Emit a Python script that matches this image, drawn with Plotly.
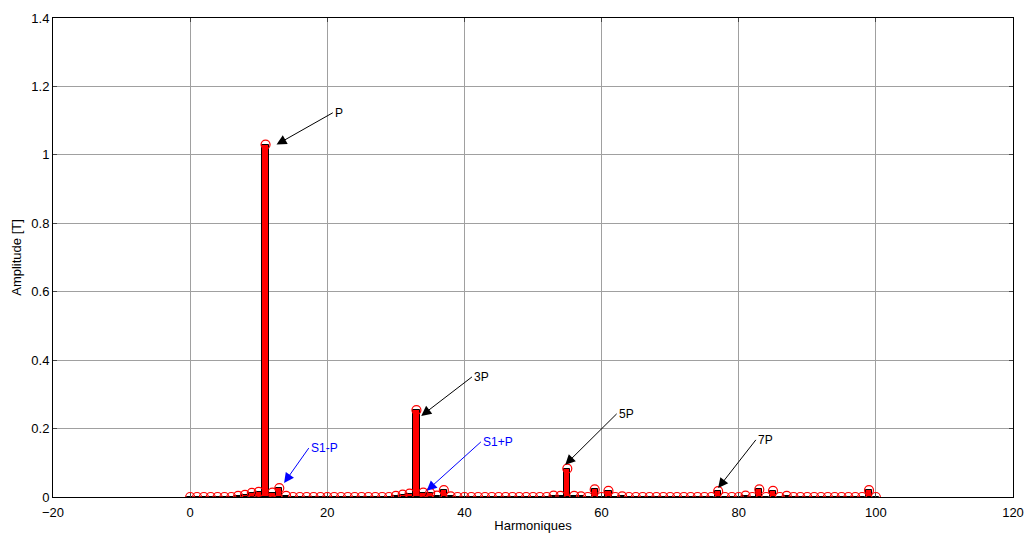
import plotly.graph_objects as go

# Harmonic rank and flux density amplitude spectrum
harmonics = list(range(0, 101))
amplitude = [
    0, 0, 0, 0, 0, 0, 0, 0.003, 0.006, 0.012,          # 0-9
    0.015, 1.03, 0.013, 0.026, 0.003, 0, 0, 0, 0, 0,     # 10-19
    0, 0, 0, 0, 0, 0, 0, 0, 0, 0,                        # 20-29
    0.003, 0.007, 0.01, 0.254, 0.013, 0.012, 0.004, 0.02, 0.002, 0,  # 30-39
    0, 0, 0, 0, 0, 0, 0, 0, 0, 0,                        # 40-49
    0, 0, 0, 0.004, 0.003, 0.083, 0.003, 0.002, 0, 0.022,  # 50-59
    0, 0.018, 0, 0.002, 0, 0, 0, 0, 0, 0,                # 60-69
    0, 0, 0, 0, 0, 0, 0, 0.017, 0, 0,                    # 70-79
    0, 0.004, 0, 0.022, 0, 0.018, 0, 0.003, 0, 0,        # 80-89
    0, 0, 0, 0, 0, 0, 0, 0, 0, 0.02,                     # 90-99
    0,                                                   # 100
]

x_ticks = [-20, 0, 20, 40, 60, 80, 100, 120]
y_ticks = [0, 0.2, 0.4, 0.6, 0.8, 1.0, 1.2, 1.4]
y_tick_text = ["0", "0.2", "0.4", "0.6", "0.8", "1", "1.2", "1.4"]

# Arrow labels: (text, head_x, head_y, tail_x, tail_y, colour)
labels = [
    ("P", 12.6, 1.03, 20.8, 1.123, "black"),
    ("3P", 33.7, 0.237, 41.1, 0.351, "black"),
    ("5P", 54.7, 0.094, 62.2, 0.243, "black"),
    ("7P", 77.0, 0.026, 82.5, 0.167, "black"),
    ("S1-P", 13.7, 0.041, 17.3, 0.143, "blue"),
    ("S1+P", 34.5, 0.018, 42.4, 0.161, "blue"),
]

fig = go.Figure()

fig.add_trace(go.Bar(
    x=harmonics, y=amplitude, width=0.9,
    marker=dict(color="red", line=dict(color="black", width=1)),
    showlegend=False, hoverinfo="skip",
))

fig.add_trace(go.Scatter(
    x=harmonics, y=amplitude, mode="markers",
    marker=dict(symbol="circle-open", size=9, color="red", line=dict(width=1.2)),
    showlegend=False, hoverinfo="skip",
))

annotations = []
for text, hx, hy, tx, ty, col in labels:
    annotations.append(dict(
        x=hx, y=hy, ax=tx, ay=ty, xref="x", yref="y", axref="x", ayref="y",
        text=text, showarrow=True, arrowhead=2, arrowsize=2, arrowwidth=1,
        arrowcolor=col, font=dict(color=col, size=12, family="Liberation Sans, Arial"),
        xanchor="left", yanchor="middle",
    ))

fig.update_layout(
    width=1025, height=535,
    margin=dict(l=53, r=12, t=18, b=38),
    paper_bgcolor="white", plot_bgcolor="white",
    font=dict(family="Liberation Sans, Arial", size=12, color="black"),
    bargap=0, barmode="overlay",
    annotations=annotations,
    xaxis=dict(
        range=[-20, 120], tickvals=x_ticks, ticks="inside", ticklen=4,
        showgrid=True, gridcolor="#a0a0a0", gridwidth=1,
        showline=True, linecolor="black", linewidth=1, mirror="ticks",
        zeroline=False, automargin=False,
        tickfont=dict(size=13), ticklabelstandoff=3,
        title=dict(text="Harmoniques", standoff=2, font=dict(size=13)),
    ),
    yaxis=dict(
        range=[0, 1.4], tickvals=y_ticks, ticktext=y_tick_text,
        ticks="inside", ticklen=4,
        showgrid=True, gridcolor="#a0a0a0", gridwidth=1,
        showline=True, linecolor="black", linewidth=1, mirror="ticks",
        zeroline=False, automargin=False,
        tickfont=dict(size=13),
        title=dict(text="Amplitude [T]", standoff=6, font=dict(size=13)),
    ),
)

fig.write_html("out.html")
